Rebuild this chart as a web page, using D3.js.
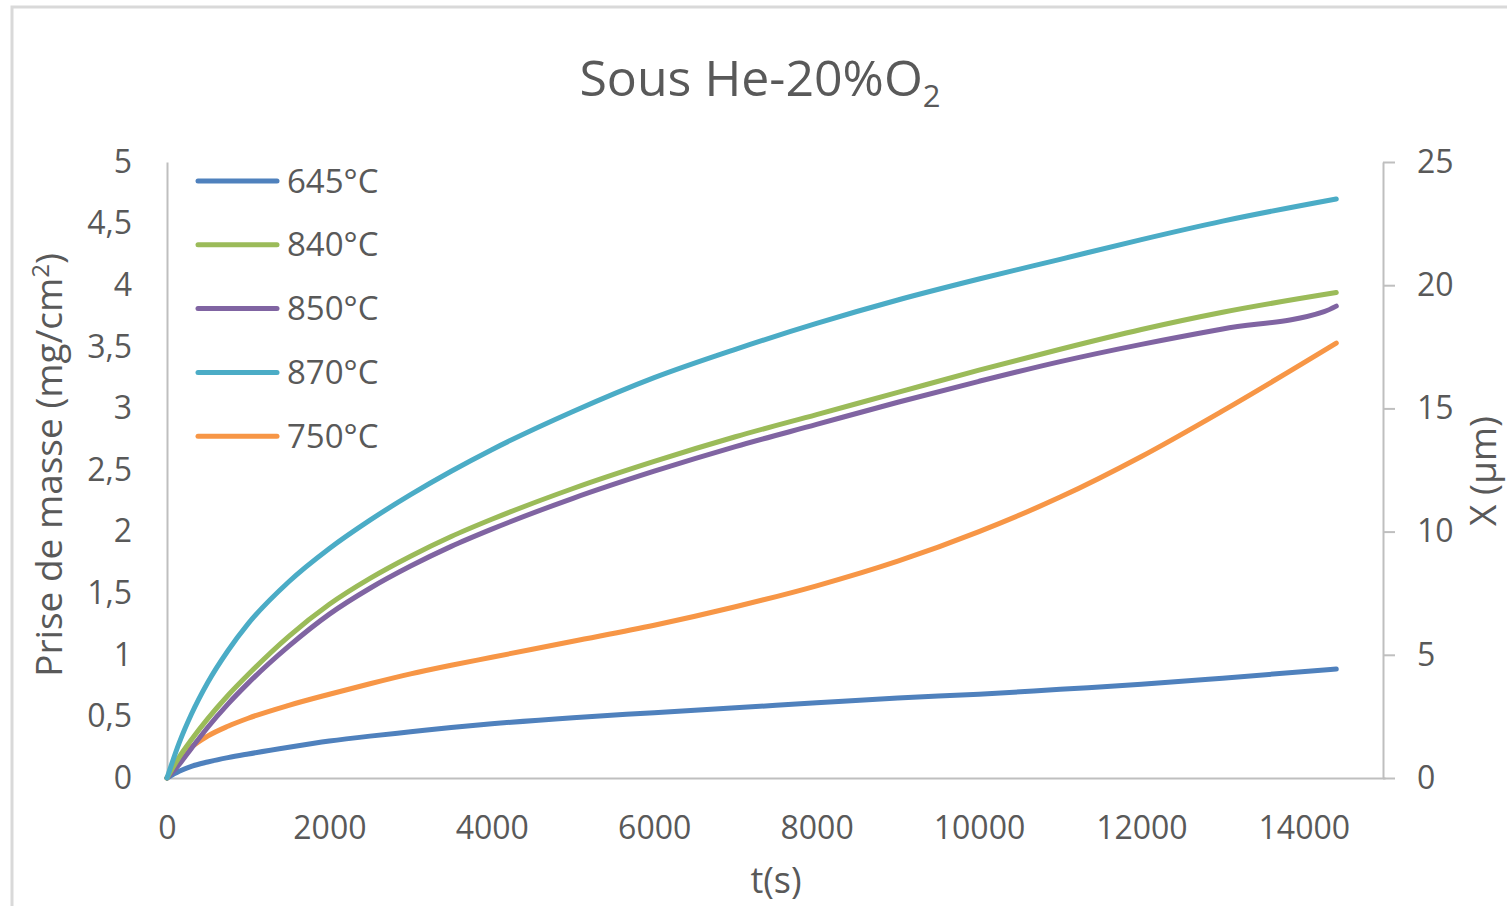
<!DOCTYPE html>
<html><head><meta charset="utf-8">
<script src="https://cdn.jsdelivr.net/npm/d3@7"></script>
<style>
html,body{margin:0;padding:0;background:#fff;}
svg{display:block;font-family:"Open Sans","Noto Sans",sans-serif;}
</style></head>
<body>
<svg id="chart" width="1507" height="906"></svg>
<script>
// ---- data ----
const times = [0,150,300,500,750,1000,1500,2000,2500,3000,3500,4000,5000,6000,7000,8000,9000,10000,11000,12000,13000,14400];
const timesPurple = [0,150,300,500,750,1000,1500,2000,2500,3000,3500,4000,5000,6000,7000,8000,9000,10000,11000,12000,13000,14250,14400];
const m645 = [0,0.055,0.095,0.13,0.165,0.195,0.25,0.30,0.34,0.375,0.41,0.44,0.49,0.53,0.57,0.61,0.65,0.68,0.72,0.76,0.81,0.885];
const m840 = [0,0.17,0.31,0.48,0.67,0.84,1.15,1.41,1.62,1.80,1.96,2.10,2.35,2.57,2.77,2.95,3.13,3.31,3.48,3.64,3.78,3.94];
const m850 = [0,0.11,0.24,0.41,0.60,0.77,1.07,1.33,1.54,1.72,1.88,2.02,2.27,2.49,2.69,2.87,3.05,3.22,3.38,3.52,3.645,3.785,3.83];
const m870 = [0,0.285,0.517,0.773,1.033,1.253,1.593,1.863,2.093,2.30,2.49,2.665,2.975,3.25,3.48,3.69,3.88,4.05,4.21,4.37,4.52,4.70];
const m750 = [0,0.15,0.25,0.34,0.42,0.485,0.59,0.68,0.765,0.845,0.915,0.98,1.11,1.24,1.39,1.56,1.76,2.00,2.28,2.61,2.98,3.53];
const seriesNames = ["645°C","840°C","850°C","870°C","750°C"];
const seriesColors = ["#4F81BD","#9BBB59","#8064A2","#4BACC6","#F79646"];
const xTicks = [0,2000,4000,6000,8000,10000,12000,14000];
const yTicks = [0,0.5,1,1.5,2,2.5,3,3.5,4,4.5,5];
const y2Ticks = [0,5,10,15,20,25];

const series = [
  {name:seriesNames[0], color:seriesColors[0], t:times, v:m645},
  {name:seriesNames[1], color:seriesColors[1], t:times, v:m840},
  {name:seriesNames[2], color:seriesColors[2], t:timesPurple, v:m850},
  {name:seriesNames[3], color:seriesColors[3], t:times, v:m870},
  {name:seriesNames[4], color:seriesColors[4], t:times, v:m750}
];

const svg = d3.select("#chart");
const txt = "#595959", axisCol = "#BFBFBF";
const FF = "'Open Sans','Noto Sans',sans-serif";

// outer frame
svg.append("rect").attr("x",12).attr("y",7).attr("width",1600).attr("height",1000)
  .attr("fill","none").attr("stroke","#D9D9D9").attr("stroke-width",3);

const L = 167, R = 1385, T = 162, B = 778;
const x = d3.scaleLinear().domain([0,15000]).range([L,R]);
const y = d3.scaleLinear().domain([0,5]).range([B,T]);
const y2 = d3.scaleLinear().domain([0,25]).range([B,T]);

// title
const title = svg.append("text").attr("x",760).attr("y",96).attr("text-anchor","middle")
  .attr("fill",txt).attr("font-size",50);
title.append("tspan").text("Sous He-20%O");
title.append("tspan").attr("font-size",31).attr("dy",11).text("2");

// left axis
const gy = svg.append("g").attr("transform",`translate(${L},0)`)
  .call(d3.axisLeft(y).tickValues(yTicks).tickSize(0).tickPadding(35)
  .tickFormat(d => String(d).replace(".",",")));
gy.select(".domain").attr("stroke",axisCol).attr("stroke-width",2);
gy.selectAll("text").attr("fill",txt).attr("font-size",32).attr("font-family",FF);

// bottom axis
const gx = svg.append("g").attr("transform",`translate(0,${B})`)
  .call(d3.axisBottom(x).tickValues(xTicks).tickSize(0).tickPadding(38).tickFormat(d3.format("d")));
gx.select(".domain").attr("stroke",axisCol).attr("stroke-width",2);
gx.selectAll("text").attr("fill",txt).attr("font-size",32).attr("font-family",FF);

// right axis
const gy2 = svg.append("g").attr("transform",`translate(${R-2},0)`)
  .call(d3.axisRight(y2).tickValues(y2Ticks).tickSize(12).tickSizeOuter(0).tickPadding(22));
gy2.select(".domain").attr("stroke",axisCol).attr("stroke-width",2);
gy2.selectAll("line").attr("stroke",axisCol).attr("stroke-width",2);
gy2.selectAll("text").attr("fill",txt).attr("font-size",32).attr("font-family",FF);

// axis titles
const yt = svg.append("text").attr("transform","translate(62,465) rotate(-90)")
  .attr("text-anchor","middle").attr("fill",txt).attr("font-size",37);
yt.append("tspan").text("Prise de masse (mg/cm");
yt.append("tspan").attr("font-size",24).attr("dy",-13).text("2");
yt.append("tspan").attr("dy",13).text(")");

svg.append("text").attr("transform","translate(1496,471) rotate(-90)")
  .attr("text-anchor","middle").attr("fill",txt).attr("font-size",37).text("X (µm)");

svg.append("text").attr("x",776).attr("y",893).attr("text-anchor","middle")
  .attr("fill",txt).attr("font-size",36).text("t(s)");

// lines
const line = d3.line().x(d => x(d[0])).y(d => y(d[1])).curve(d3.curveMonotoneX);
const order = [0,4,2,1,3];
order.forEach(i => {
  const s = series[i];
  svg.append("path").datum(s.t.map((t,k) => [t, s.v[k]]))
    .attr("d", line).attr("fill","none").attr("stroke", s.color)
    .attr("stroke-width",5).attr("stroke-linecap","round").attr("stroke-linejoin","round");
});

// legend
const lg = svg.append("g");
series.forEach((s,i) => {
  const yy = 181 + i*63.8;
  lg.append("line").attr("x1",198).attr("x2",277).attr("y1",yy).attr("y2",yy)
    .attr("stroke",s.color).attr("stroke-width",5).attr("stroke-linecap","round");
  lg.append("text").attr("x",287).attr("y",yy).attr("dy","0.35em").attr("fill",txt)
    .attr("font-size",33).text(s.name);
});
</script>
</body></html>
